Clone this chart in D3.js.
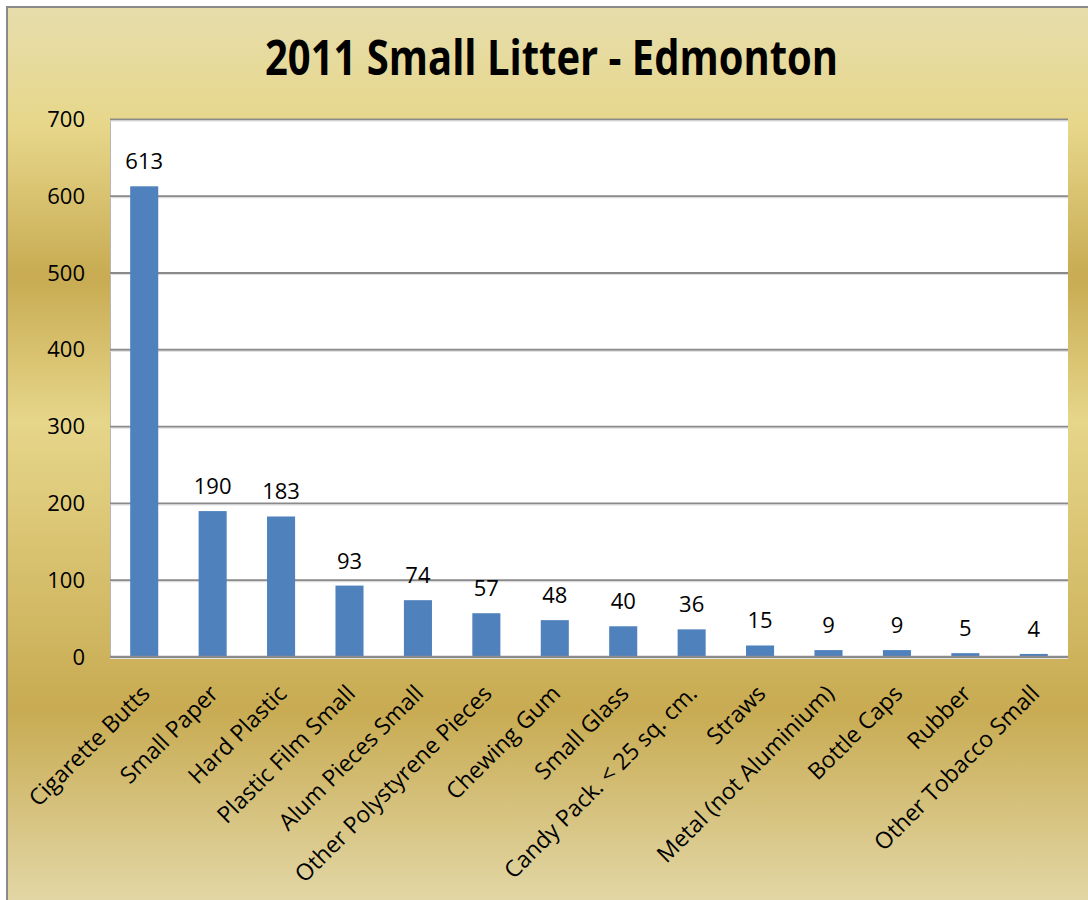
<!DOCTYPE html>
<html>
<head>
<meta charset="utf-8">
<script src="https://cdn.jsdelivr.net/npm/d3@7"></script>
<style>
  html, body { margin: 0; padding: 0; background: #ffffff; }
  svg { display: block; }
</style>
</head>
<body>
<svg id="chart" width="1088" height="900"></svg>
<script>
const titleText = "2011 Small Litter - Edmonton";
const categories = [
  "Cigarette Butts", "Small Paper", "Hard Plastic", "Plastic Film Small",
  "Alum Pieces Small", "Other Polystyrene Pieces", "Chewing Gum", "Small Glass",
  "Candy Pack. < 25 sq. cm.", "Straws", "Metal (not Aluminium)", "Bottle Caps",
  "Rubber", "Other Tobacco Small"
];
const values = [613, 190, 183, 93, 74, 57, 48, 40, 36, 15, 9, 9, 5, 4];
const yTicks = [0, 100, 200, 300, 400, 500, 600, 700];

const W = 1088, H = 900;
const plot = { left: 110, right: 1068, top: 119.5, bottom: 657 };
const svg = d3.select("#chart");

// background gradient
const defs = svg.append("defs");
const grad = defs.append("linearGradient").attr("id", "bg")
  .attr("x1", 0).attr("y1", 0).attr("x2", 0).attr("y2", 1);
[[0, "#e6ddac"], [0.13, "#e7d78b"], [0.30, "#c8ab52"], [0.46, "#e6d68a"],
 [0.78, "#c8ab52"], [1, "#e3d8a8"]].forEach(([o, c]) =>
  grad.append("stop").attr("offset", o).attr("stop-color", c));

svg.append("rect").attr("x", 7).attr("y", 7).attr("width", W).attr("height", H)
  .attr("fill", "url(#bg)");
svg.append("path").attr("d", `M7,${H} V7 H${W}`)
  .attr("fill", "none").attr("stroke", "#8a8a8a").attr("stroke-width", 2);

// title
svg.append("text")
  .attr("x", 551.5).attr("y", 75)
  .attr("text-anchor", "middle")
  .attr("font-family", "'Open Sans', sans-serif")
  .attr("font-weight", "bold")
  .attr("font-size", 48)
  .attr("textLength", 573)
  .attr("lengthAdjust", "spacingAndGlyphs")
  .attr("fill", "#000")
  .text(titleText);

// plot area
svg.append("rect")
  .attr("x", plot.left).attr("y", plot.top)
  .attr("width", plot.right - plot.left).attr("height", plot.bottom - plot.top + 2)
  .attr("fill", "#ffffff");
svg.append("line")
  .attr("x1", plot.left + 0.5).attr("x2", plot.left + 0.5)
  .attr("y1", plot.top).attr("y2", plot.bottom)
  .attr("stroke", "#b5b5b5").attr("stroke-width", 1);

const x = d3.scaleBand().domain(categories)
  .range([plot.left, plot.right])
  .paddingInner(0.59).paddingOuter(0.295);
const y = d3.scaleLinear().domain([0, 700]).range([plot.bottom, plot.top]);

// gridlines
svg.append("g").selectAll("line").data(yTicks.filter(d => d > 0)).join("line")
  .attr("x1", plot.left).attr("x2", plot.right)
  .attr("y1", d => y(d)).attr("y2", d => y(d))
  .attr("stroke", "#8a8a8a").attr("stroke-width", 2);
svg.append("g").selectAll("line").data(yTicks.filter(d => d > 0)).join("line")
  .attr("x1", plot.left).attr("x2", plot.right)
  .attr("y1", d => y(d) + 1.5).attr("y2", d => y(d) + 1.5)
  .attr("stroke", "#dcdcdc").attr("stroke-width", 1);

// y axis labels
const yAxis = d3.axisLeft(y).tickValues(yTicks).tickSize(0).tickPadding(25);
const yg = svg.append("g").attr("transform", `translate(${plot.left},0)`).call(yAxis);
yg.select(".domain").remove();
yg.selectAll("text")
  .attr("font-family", "'Open Sans', sans-serif")
  .attr("font-size", 22).attr("fill", "#000");

// bars
svg.append("g").selectAll("rect").data(values).join("rect")
  .attr("x", (d, i) => x(categories[i]))
  .attr("width", x.bandwidth())
  .attr("y", d => y(d))
  .attr("height", d => y(0) - y(d))
  .attr("fill", "#4f81bd");

// value labels
svg.append("g").selectAll("text").data(values).join("text")
  .attr("x", (d, i) => x(categories[i]) + x.bandwidth() / 2)
  .attr("y", d => y(d) - 17)
  .attr("text-anchor", "middle")
  .attr("font-family", "'Open Sans', sans-serif")
  .attr("font-size", 22).attr("fill", "#000")
  .text(d => d);

// x axis line
svg.append("line")
  .attr("x1", plot.left).attr("x2", plot.right)
  .attr("y1", y(0)).attr("y2", y(0))
  .attr("stroke", "#8a8a8a").attr("stroke-width", 2.5);

// category labels
const xAxis = d3.axisBottom(x).tickSize(0).tickPadding(0);
const xg = svg.append("g").attr("transform", `translate(0,${plot.bottom})`).call(xAxis);
xg.select(".domain").remove();
xg.selectAll("text")
  .attr("font-family", "'Open Sans', sans-serif")
  .attr("font-size", 23).attr("fill", "#000")
  .attr("text-anchor", "end")
  .attr("dy", "0")
  .attr("y", 0)
  .attr("transform", `translate(7,38) rotate(-45)`);
</script>
</body>
</html>
